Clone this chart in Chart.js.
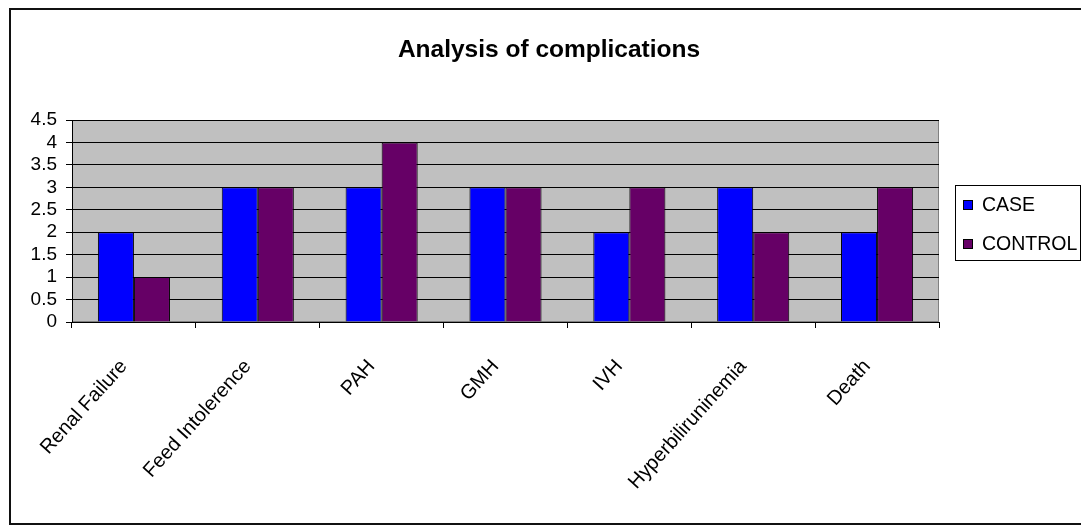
<!DOCTYPE html>
<html><head><meta charset="utf-8">
<script src="https://cdn.jsdelivr.net/npm/chart.js@4/dist/chart.umd.min.js"></script>
<style>
html,body{margin:0;padding:0;background:#fff;overflow:hidden}
#wrap{position:relative;width:1081px;height:527px;overflow:hidden}
#frame{position:absolute;left:9px;top:8px;width:1100px;height:517px;border:2px solid #111;box-sizing:border-box}
#c{position:absolute;left:0;top:0}
</style></head>
<body>
<div id="wrap"><div id="frame"></div><canvas id="c" width="1081" height="527"></canvas></div>
<script>
const TITLE = 'Analysis of complications';
const categories = ['Renal Failure','Feed Intolerence','PAH','GMH','IVH','Hyperbiliruninemia','Death'];
const seriesNames = ['CASE','CONTROL'];
const caseValues = [2,3,3,3,2,3,2];
const controlValues = [1,3,4,3,3,2,3];
const yMin = 0, yMax = 4.5, yStep = 0.5;
const colors = ['#0000FF','#660066'];
const FONT = '"Liberation Sans", Arial, sans-serif';

const plotBg = {
  id:'plotBg',
  beforeDraw(chart){
    const {ctx, chartArea:a} = chart;
    ctx.save();
    ctx.fillStyle = '#C0C0C0';
    ctx.fillRect(a.left, a.top, a.right-a.left, a.bottom-a.top);
    ctx.strokeStyle = '#808080'; ctx.lineWidth = 1;
    ctx.strokeRect(a.left+0.5, a.top+0.5, a.right-a.left-1, a.bottom-a.top-1);
    ctx.restore();
  },
  afterDraw(chart){
    const ctx = chart.ctx;
    ctx.save();
    ctx.fillStyle = '#000';
    ctx.font = 'bold 24.5px ' + FONT;
    ctx.textAlign = 'center'; ctx.textBaseline = 'alphabetic';
    ctx.fillText(TITLE, 549, 57);
    const bx = 955, by = 185, bw = 125, bh = 75;
    ctx.strokeStyle = '#000'; ctx.lineWidth = 1;
    ctx.strokeRect(bx+0.5, by+0.5, bw, bh);
    ctx.font = '19.5px ' + FONT;
    ctx.textAlign = 'left'; ctx.textBaseline = 'middle';
    chart.data.datasets.forEach((ds, i) => {
      const cy = 205 + i*39;
      ctx.fillStyle = ds.backgroundColor;
      ctx.fillRect(963, cy-5, 10, 10);
      ctx.strokeStyle = '#000';
      ctx.strokeRect(963.5, cy-4.5, 9, 9);
      ctx.fillStyle = '#000';
      ctx.fillText(ds.label, 982, cy+1);
    });
    ctx.restore();
  }
};

new Chart(document.getElementById('c'), {
  type:'bar',
  data:{
    labels: categories,
    datasets:[
      {label: seriesNames[0], data: caseValues, backgroundColor: colors[0], borderColor:'#000', borderWidth:1},
      {label: seriesNames[1], data: controlValues, backgroundColor: colors[1], borderColor:'#000', borderWidth:1}
    ]
  },
  options:{
    responsive:false,
    animation:false,
    layout:{padding:{top:120, right:142, left:0, bottom:0}},
    datasets:{bar:{categoryPercentage:0.582, barPercentage:1}},
    plugins:{legend:{display:false}, title:{display:false}, tooltip:{enabled:false}},
    scales:{
      x:{
        grid:{display:true, drawOnChartArea:false, drawTicks:true, tickLength:6, color:'#000', offset:true},
        border:{display:true, color:'#000', width:1},
        ticks:{color:'#000', font:{family:FONT, size:20}, minRotation:48, maxRotation:48, autoSkip:false, padding:27, labelOffset:-10},
        afterFit(s){ s.height = 205; }
      },
      y:{
        min:yMin, max:yMax,
        grid:{color:'#000', lineWidth:1, tickLength:6, drawTicks:true},
        border:{display:true, color:'#000', width:1},
        ticks:{stepSize:yStep, autoSkip:false, color:'#000', font:{family:FONT, size:19}, padding:9,
               callback:(v)=>String(v)},
        afterFit(s){ s.width = 72; }
      }
    }
  },
  plugins:[plotBg]
});
</script>
</body></html>
